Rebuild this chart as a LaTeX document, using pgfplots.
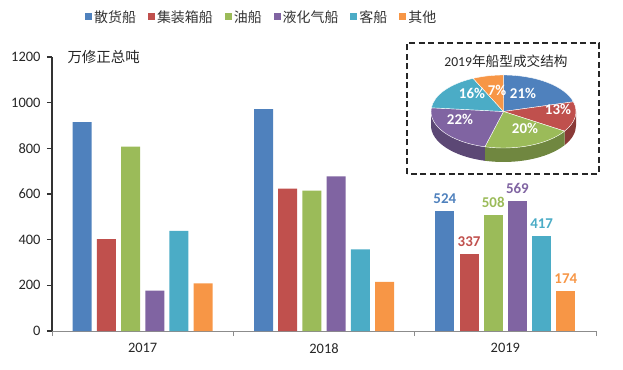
\documentclass[border=0pt]{standalone}
\usepackage{fontspec}
\setmainfont{Carlito}
\newfontfamily\cjk{Noto Sans CJK SC}
\usepackage{pgfplots}
\pgfplotsset{compat=1.18}
\definecolor{cA}{HTML}{4F81BD}
\definecolor{cB}{HTML}{C0504D}
\definecolor{cC}{HTML}{9BBB59}
\definecolor{cD}{HTML}{8064A2}
\definecolor{cE}{HTML}{4BACC6}
\definecolor{cF}{HTML}{F79646}
% 2019 values for the pie
\pgfmathsetmacro\vA{524}\pgfmathsetmacro\vB{337}\pgfmathsetmacro\vC{508}
\pgfmathsetmacro\vD{569}\pgfmathsetmacro\vE{417}\pgfmathsetmacro\vF{174}
\pgfmathsetmacro\tot{\vA+\vB+\vC+\vD+\vE+\vF}
\pgfmathsetmacro\aA{90}
\pgfmathsetmacro\aB{\aA-\vA/\tot*360}
\pgfmathsetmacro\aC{\aB-\vB/\tot*360}
\pgfmathsetmacro\aD{\aC-\vC/\tot*360}
\pgfmathsetmacro\aE{\aD-\vD/\tot*360}
\pgfmathsetmacro\aF{\aE-\vE/\tot*360}
\pgfmathsetmacro\aG{\aF-\vF/\tot*360}
\def\rx{72.5}\def\ry{36.5}\def\piedepth{14}
\begin{document}
\begin{tikzpicture}
\useasboundingbox (0,0) rectangle (623bp,370bp);
\begin{axis}[
  at={(52bp,39bp)}, anchor=south west,
  scale only axis, width=544bp, height=274bp,
  xmin=-0.5, xmax=2.5, ymin=0, ymax=1200,
  axis x line*=bottom, axis y line*=left,
  x axis line style={draw=black!45, line width=1pt, -},
  y axis line style={draw=black!80, line width=1.2pt, -},
  xtick={0,1,2}, xticklabels={2017,2018,2019},
  minor xtick={-0.5,0.5,1.5,2.5},
  ytick={0,200,...,1200},
  tick align=outside,
  major tick length=5bp, minor tick length=5bp,
  major x tick style={draw=none},
  minor x tick style={draw=black!45, line width=1pt},
  y tick style={draw=black!80, line width=1.2pt},
  ticklabel style={font=\fontsize{14.5}{16}\selectfont, text=black!85},
  /pgf/number format/assume math mode=true,
  /pgf/number format/1000 sep={},
  yticklabel style={xshift=-3bp},
  xticklabel style={yshift=-4bp},
  ybar, bar width=19bp,
  clip=false,
  legend columns=6,
  legend style={at={(0.0607,1.146)}, anchor=west, draw=none, fill=none, inner sep=0pt,
    font=\cjk\fontsize{14}{16}\selectfont, text=black!80,
    /tikz/every even column/.append style={column sep=10bp}},
  bars/.style 2 args={fill=#1, draw=none, bar shift=#2,
    legend image code/.code={\fill[##1] (0bp,-3.5bp) rectangle (7bp,3.5bp);}},
  lab/.style={forget plot, nodes near coords,
    nodes near coords style={text=#1, font=\bfseries\fontsize{15}{17}\selectfont, yshift=4bp}},
]
\addplot[bars={cA}{-60.5bp}] coordinates {(0,915) (1,972)};
\addlegendentry{散货船}
\addplot[bars={cB}{-36.3bp}] coordinates {(0,402) (1,623)};
\addlegendentry{集装箱船}
\addplot[bars={cC}{-12.1bp}] coordinates {(0,807) (1,615)};
\addlegendentry{油船}
\addplot[bars={cD}{12.1bp}] coordinates {(0,177) (1,677)};
\addlegendentry{液化气船}
\addplot[bars={cE}{36.3bp}] coordinates {(0,439) (1,357)};
\addlegendentry{客船}
\addplot[bars={cF}{60.5bp}] coordinates {(0,209) (1,215)};
\addlegendentry{其他}
\addplot[bars={cA}{-60.5bp}, lab=cA] coordinates {(2,524)};
\addplot[bars={cB}{-36.3bp}, lab=cB] coordinates {(2,337)};
\addplot[bars={cC}{-12.1bp}, lab=cC] coordinates {(2,508)};
\addplot[bars={cD}{12.1bp}, lab=cD] coordinates {(2,569)};
\addplot[bars={cE}{36.3bp}, lab=cE] coordinates {(2,417)};
\addplot[bars={cF}{60.5bp}, lab=cF] coordinates {(2,174)};
\end{axis}
\node[anchor=west, font=\cjk\fontsize{14.5}{16}\selectfont, text=black!85] at (64bp,313bp) {万修正总吨};
% inset
\draw[line width=1.8bp, dash pattern=on 6bp off 3.5bp, black!85] (407bp,196bp) rectangle (599bp,327bp);
\node[font=\fontsize{13.7}{15}\selectfont, text=black!85] at (506bp,309bp) {2019{\cjk 年船型成交结构}};
\begin{axis}[
  at={(503.5bp,258.5bp)}, anchor=center,
  x=1bp, y=1bp, xmin=-100, xmax=100, ymin=-60, ymax=60,
  hide axis, clip=false,
]
% sides (front half)
\fill[cB!72!black] (axis cs:{\rx*cos(0)},{\ry*sin(0)}) arc[start angle=0,end angle=\aC,x radius=\rx bp,y radius=\ry bp] -- (axis cs:{\rx*cos(\aC)},{\ry*sin(\aC)-\piedepth}) arc[start angle=\aC,end angle=0,x radius=\rx bp,y radius=\ry bp] -- cycle;
\fill[cC!72!black] (axis cs:{\rx*cos(\aC)},{\ry*sin(\aC)}) arc[start angle=\aC,end angle=\aD,x radius=\rx bp,y radius=\ry bp] -- (axis cs:{\rx*cos(\aD)},{\ry*sin(\aD)-\piedepth}) arc[start angle=\aD,end angle=\aC,x radius=\rx bp,y radius=\ry bp] -- cycle;
\fill[cD!72!black] (axis cs:{\rx*cos(\aD)},{\ry*sin(\aD)}) arc[start angle=\aD,end angle=-180,x radius=\rx bp,y radius=\ry bp] -- (axis cs:{\rx*cos(-180)},{\ry*sin(-180)-\piedepth}) arc[start angle=-180,end angle=\aD,x radius=\rx bp,y radius=\ry bp] -- cycle;
% top
\filldraw[fill=cA, draw=white, line width=0.4bp] (axis cs:0,0) -- (axis cs:{\rx*cos(\aA)},{\ry*sin(\aA)}) arc[start angle=\aA,end angle=\aB,x radius=\rx bp,y radius=\ry bp] -- cycle;
\filldraw[fill=cB, draw=white, line width=0.4bp] (axis cs:0,0) -- (axis cs:{\rx*cos(\aB)},{\ry*sin(\aB)}) arc[start angle=\aB,end angle=\aC,x radius=\rx bp,y radius=\ry bp] -- cycle;
\filldraw[fill=cC, draw=white, line width=0.4bp] (axis cs:0,0) -- (axis cs:{\rx*cos(\aC)},{\ry*sin(\aC)}) arc[start angle=\aC,end angle=\aD,x radius=\rx bp,y radius=\ry bp] -- cycle;
\filldraw[fill=cD, draw=white, line width=0.4bp] (axis cs:0,0) -- (axis cs:{\rx*cos(\aD)},{\ry*sin(\aD)}) arc[start angle=\aD,end angle=\aE,x radius=\rx bp,y radius=\ry bp] -- cycle;
\filldraw[fill=cE, draw=white, line width=0.4bp] (axis cs:0,0) -- (axis cs:{\rx*cos(\aE)},{\ry*sin(\aE)}) arc[start angle=\aE,end angle=\aF,x radius=\rx bp,y radius=\ry bp] -- cycle;
\filldraw[fill=cF, draw=white, line width=0.4bp] (axis cs:0,0) -- (axis cs:{\rx*cos(\aF)},{\ry*sin(\aF)}) arc[start angle=\aF,end angle=\aG,x radius=\rx bp,y radius=\ry bp] -- cycle;
\begin{scope}[every node/.style={text=white, font=\bfseries\fontsize{15}{17}\selectfont}]
\node at (axis cs:19.5,18.5) {21\%};
\node at (axis cs:54.5,2.5) {13\%};
\node at (axis cs:21.5,-16.5) {20\%};
\node at (axis cs:-43.5,-7.5) {22\%};
\node at (axis cs:-31.5,18.5) {16\%};
\node at (axis cs:-6.5,21.5) {7\%};
\end{scope}
\end{axis}
\end{tikzpicture}
\end{document}
